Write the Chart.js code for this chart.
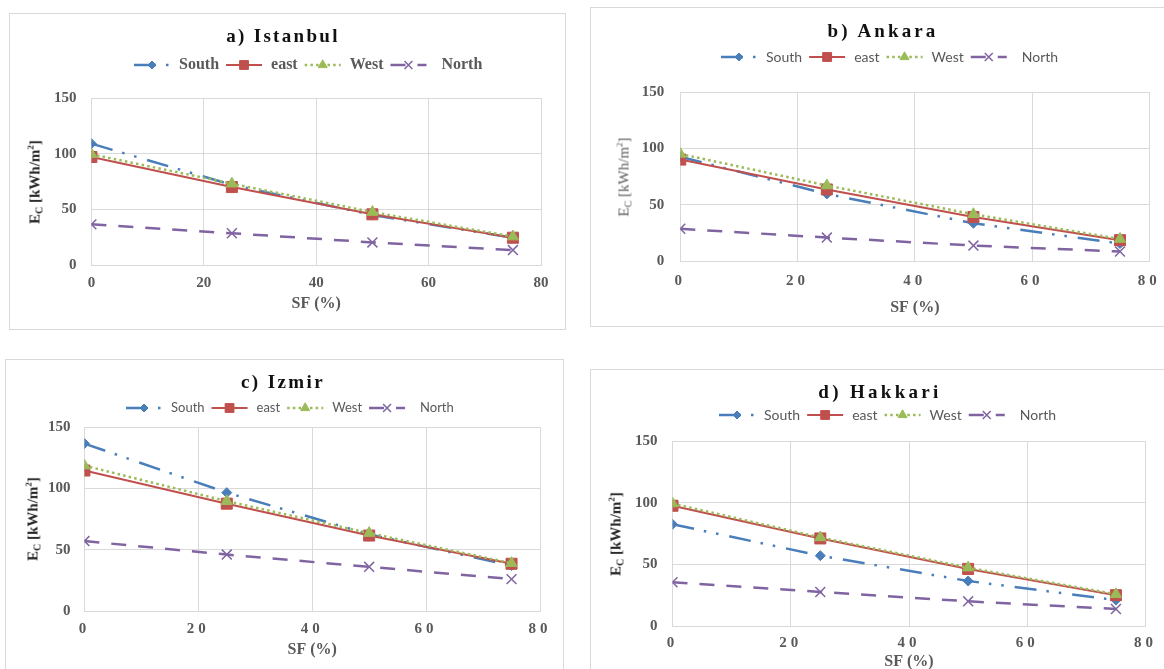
<!DOCTYPE html>
<html>
<head>
<meta charset="utf-8">
<script src="https://cdn.jsdelivr.net/npm/chart.js@4"></script>
<style>
  html, body { margin: 0; padding: 0; background: #fff; }
  body { width: 1164px; height: 669px; overflow: hidden; position: relative; }
  .panel { position: absolute; box-sizing: border-box; border: 1px solid #d9d9d9; }
  canvas { position: absolute; }
  .title { position: absolute; transform: translate(-50%, -50%); font: bold 19px "Liberation Serif", serif; color: #111; white-space: nowrap; }
  .ytitle { position: absolute; transform: translate(-50%, -50%) rotate(-90deg); font: bold 15px "Liberation Serif", serif; color: #262626; white-space: nowrap; }
  .ytitle sub { font-size: 10px; vertical-align: -3px; }
  .ytitle sup { font-size: 9px; vertical-align: 6px; }
</style>
</head>
<body>
<script>
// x values (SF %) and series names shared by all four panels
const sf = [0, 25, 50, 75];
const seriesNames = ["South", "east", "West", "North"];
const xTicks = [0, 20, 40, 60, 80];
const yTicks = [0, 50, 100, 150];

// a) Istanbul
const istanbulSouth = [109, 72, 45, 24.5];
const istanbulEast  = [97, 70, 45.5, 24.5];
const istanbulWest  = [99.5, 73, 47.5, 25.5];
const istanbulNorth = [36.5, 28.5, 20.3, 13.4];

// b) Ankara
const ankaraSouth = [92.5, 59.5, 33.5, 15.5];
const ankaraEast  = [90, 63.5, 39, 18.5];
const ankaraWest  = [95, 67, 41.5, 19.5];
const ankaraNorth = [28.6, 20.8, 13.7, 8.4];

// c) Izmir
const izmirSouth = [136.5, 96.5, 62.5, 37];
const izmirEast  = [114.5, 87.5, 61.5, 38.5];
const izmirWest  = [118.5, 89.5, 63.5, 39];
const izmirNorth = [57, 46, 36, 26];

// d) Hakkari
const hakkariSouth = [82.5, 57, 36.5, 21];
const hakkariEast  = [97.5, 71, 46.3, 25];
const hakkariWest  = [99.3, 71.8, 47.3, 25.7];
const hakkariNorth = [35.5, 27.6, 20, 13.8];

// line / marker look per series (same order as seriesNames)
const seriesStyles = [
  { borderColor: "#4a7ebb", backgroundColor: "#4a7ebb", borderWidth: 2.5, borderDash: [22, 10, 2.5, 10, 2.5, 11], pointStyle: "rectRot", pointRadius: 5, pointBorderWidth: 1, order: 4 },
  { borderColor: "#c0504d", backgroundColor: "#c0504d", borderWidth: 2, borderDash: [], pointStyle: "rect", pointRadius: 7.8, pointBorderWidth: 1, order: 3 },
  { borderColor: "#9bbb59", backgroundColor: "#9bbb59", borderWidth: 2.5, borderDash: [2.5, 3.2], pointStyle: "triangle", pointRadius: 6.5, pointBorderWidth: 1, order: 2 },
  { borderColor: "#8064a2", backgroundColor: "#8064a2", borderWidth: 2.5, borderDash: [15, 12], pointStyle: "crossRot", pointRadius: 7, pointBorderWidth: 1.5, order: 1 },
];

const serif = "Liberation Serif";

const panels = [
  { title: "a) Istanbul", values: [istanbulSouth, istanbulEast, istanbulWest, istanbulNorth],
    box: { x: 9, y: 13, w: 557, h: 317 }, plot: { l: 91.4, t: 98, r: 541, b: 265 },
    titleX: 283, titleY: 36, titleSpacing: 2.3,
    legendX: 134, legendY: 65, legendFont: "bold 16px " + serif,
    yTitleX: 35, yTitleBold: true, xTitleY: 304, xPad: 9, yPad: 15, xSpacing: "0px" },
  { title: "b) Ankara", values: [ankaraSouth, ankaraEast, ankaraWest, ankaraNorth],
    box: { x: 590, y: 7, w: 580, h: 320 }, plot: { l: 680.3, t: 92, r: 1149.3, b: 261 },
    titleX: 883, titleY: 31, titleSpacing: 3.1,
    legendX: 721, legendY: 57, legendFont: "14px Lato",
    yTitleX: 624, yTitleBold: false, xTitleY: 308, xPad: 11, yPad: 16, xSpacing: "4px" },
  { title: "c) Izmir", values: [izmirSouth, izmirEast, izmirWest, izmirNorth],
    box: { x: 5, y: 359, w: 559, h: 316 }, plot: { l: 84.4, t: 427, r: 540, b: 611 },
    titleX: 283, titleY: 382, titleSpacing: 2.4,
    legendX: 126, legendY: 408, legendFont: "13px Lato",
    yTitleX: 33, yTitleBold: true, xTitleY: 650, xPad: 9, yPad: 14, xSpacing: "4px" },
  { title: "d) Hakkari", values: [hakkariSouth, hakkariEast, hakkariWest, hakkariNorth],
    box: { x: 590, y: 369, w: 580, h: 306 }, plot: { l: 672.5, t: 441, r: 1145.5, b: 626 },
    titleX: 880, titleY: 392, titleSpacing: 3.3,
    legendX: 719, legendY: 415, legendFont: "14px Lato",
    yTitleX: 616, yTitleBold: true, xTitleY: 662, xPad: 8, yPad: 15, xSpacing: "4px" },
];

// Excel-style legend: short line sample with the marker in the middle
const sampleLegend = {
  id: "sampleLegend",
  afterLayout(chart, args, opts) {
    // spaced-out x tick digits, like the reference
    const sx = chart.scales.x;
    if (sx && !sx._spaced) {
      const orig = sx.drawLabels.bind(sx);
      sx.drawLabels = function (area) {
        const c = this.ctx;
        c.save();
        c.letterSpacing = opts.xSpacing;
        orig(area);
        c.restore();
      };
      sx._spaced = true;
    }
  },
  afterDraw(chart, args, opts) {
    const ctx = chart.ctx;
    let x = opts.x;
    const y = opts.y;
    ctx.save();
    ctx.font = opts.font;
    ctx.textBaseline = "middle";
    chart.data.datasets.forEach((ds, i) => {
      ctx.save();
      ctx.strokeStyle = ds.borderColor;
      ctx.lineWidth = ds.borderWidth;
      ctx.setLineDash(ds.borderDash);
      ctx.beginPath();
      ctx.moveTo(x, y);
      ctx.lineTo(x + opts.sample, y);
      ctx.stroke();
      ctx.setLineDash([]);
      ctx.fillStyle = ds.backgroundColor;
      ctx.lineWidth = ds.pointBorderWidth;
      if (Chart.helpers && Chart.helpers.drawPoint) {
        Chart.helpers.drawPoint(ctx, {
          pointStyle: ds.pointStyle, radius: ds.pointRadius * 0.8, rotation: 0, borderWidth: ds.pointBorderWidth
        }, x + opts.sample / 2, y);
      }
      ctx.restore();
      // last entry ("North") sits a little further from its sample in the original
      x += opts.sample + opts.textGap + (i === chart.data.datasets.length - 1 ? 6 : 0);
      ctx.fillStyle = opts.color;
      ctx.fillText(ds.label, x, y);
      x += ctx.measureText(ds.label).width + opts.itemGap;
    });
    ctx.restore();
  }
};

function makePanel(p) {
  const frame = document.createElement("div");
  frame.className = "panel";
  Object.assign(frame.style, { left: p.box.x + "px", top: p.box.y + "px", width: p.box.w + "px", height: p.box.h + "px" });
  document.body.appendChild(frame);

  const cv = document.createElement("canvas");
  cv.width = p.box.w;
  cv.height = p.box.h;
  cv.style.left = p.box.x + "px";
  cv.style.top = p.box.y + "px";
  document.body.appendChild(cv);

  const yW  = p.plot.l - p.box.x;
  const xH  = p.xTitleY - p.plot.b + 9.6;
  const padR = p.box.x + p.box.w - p.plot.r;
  const padT = p.plot.t - p.box.y;
  const padB = Math.max(0, p.box.y + p.box.h - p.plot.b - xH);

  const tickFont = { family: serif, size: 15, weight: "bold" };

  new Chart(cv, {
    type: "line",
    data: {
      datasets: p.values.map((vals, i) => ({
        label: seriesNames[i],
        data: sf.map((x, j) => ({ x, y: vals[j] })),
        fill: false,
        tension: 0,
        ...seriesStyles[i],
      }))
    },
    plugins: [sampleLegend],
    options: {
      responsive: false,
      animation: false,
      devicePixelRatio: 1,
      layout: { padding: { left: 0, right: padR, top: padT, bottom: padB } },
      plugins: {
        legend: { display: false },
        tooltip: { enabled: false },
        sampleLegend: {
          x: p.legendX - p.box.x, y: p.legendY - p.box.y, font: p.legendFont,
          color: "#595959", sample: 36, textGap: 9, itemGap: 7, xSpacing: p.xSpacing
        }
      },
      scales: {
        x: {
          type: "linear", min: 0, max: 80,
          afterBuildTicks: s => { s.ticks = xTicks.map(v => ({ value: v })); },
          afterFit: s => { s.height = xH; },
          grid: { color: "#d9d9d9", drawTicks: false },
          border: { color: "#d9d9d9" },
          ticks: { padding: p.xPad, color: "#595959", font: tickFont, maxRotation: 0, autoSkip: false },
          title: { display: true, text: "SF (%)", color: "#595959", padding: 0,
                   font: { family: serif, size: 16, weight: "bold" } }
        },
        y: {
          min: 0, max: 150,
          afterBuildTicks: s => { s.ticks = yTicks.map(v => ({ value: v })); },
          afterFit: s => { s.width = yW; },
          grid: { color: "#d9d9d9", drawTicks: false },
          border: { color: "#d9d9d9" },
          ticks: { padding: p.yPad, color: "#595959", font: tickFont }
        }
      }
    }
  });

  const t = document.createElement("div");
  t.className = "title";
  t.textContent = p.title;
  Object.assign(t.style, { left: p.titleX + "px", top: p.titleY + "px", letterSpacing: p.titleSpacing + "px" });
  document.body.appendChild(t);

  const yt = document.createElement("div");
  yt.className = "ytitle";
  yt.innerHTML = "E<sub>C</sub> [kWh/m<sup>2</sup>]";
  Object.assign(yt.style, {
    left: p.yTitleX + "px",
    top: ((p.plot.t + p.plot.b) / 2) + "px",
    fontWeight: p.yTitleBold ? "bold" : "normal",
    color: p.yTitleBold ? "#262626" : "#595959"
  });
  document.body.appendChild(yt);
}

panels.forEach(makePanel);
</script>
</body>
</html>
